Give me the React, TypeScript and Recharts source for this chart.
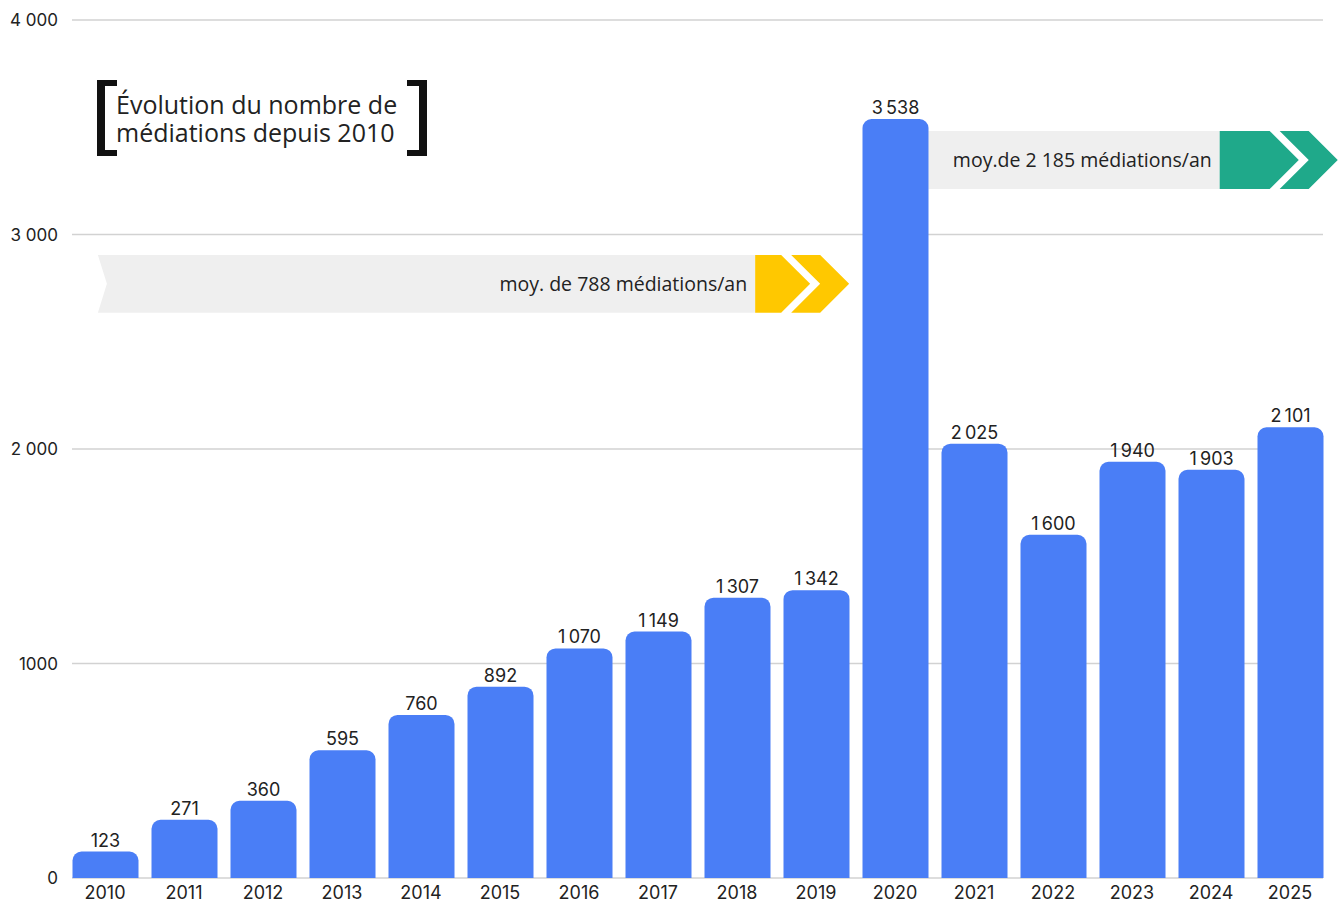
import React from "react"
import { BarChart, Bar, XAxis, YAxis, CartesianGrid, LabelList, ReferenceArea } from "recharts"

const years = ["2010", "2011", "2012", "2013", "2014", "2015", "2016", "2017", "2018", "2019", "2020", "2021", "2022", "2023", "2024", "2025"]
const mediations = [123, 271, 360, 595, 760, 892, 1070, 1149, 1307, 1342, 3538, 2025, 1600, 1940, 1903, 2101]
const yTicks = [0, 1000, 2000, 3000, 4000]
const yTickLabels = ["0", "1000", "2 000", "3 000", "4 000"]

// average banners: year span, grey part given in bands from the span start, value range
const bannerTexts = ["moy. de 788 médiations/an", "moy.de 2 185 médiations/an"]
const bannerColors = ["#FFC800", "#1FA98A"]
const bannerYears = [["2010", "2019"], ["2021", "2025"]]
const bannerBands = [[0.41, 8.73], [-0.08, 3.61]]
const bannerY = [[2635, 2905], [3212, 3483]]

const BLUE = "#4A7EF6"
const FONT_NUM = "Inter, sans-serif"
const FONT_TEXT = "'Open Sans', sans-serif"

const data = years.map((year, i) => ({ year, value: mediations[i] }))

const fmt = (v: number) => v.toLocaleString("fr-FR")

function makeBanner(i: number, blockWidth: number, notched: boolean) {
  const [from, to] = bannerYears[i]
  const bands = years.indexOf(to) - years.indexOf(from) + 1
  return (props: any) => {
    const { x: areaX, y, width: areaW, height } = props
    const band = areaW / bands
    const x = areaX + bannerBands[i][0] * band
    const end = areaX + bannerBands[i][1] * band
    const half = height / 2
    const mid = y + half
    const bottom = y + height
    const gray = notched
      ? `M${x},${y} L${end},${y} L${end},${bottom} L${x},${bottom} L${x + 9},${mid} Z`
      : `M${x},${y} L${end},${y} L${end},${bottom} L${x},${bottom} Z`
    const block = `M${end},${y} L${end + blockWidth},${y} L${end + blockWidth + half},${mid} L${end + blockWidth},${bottom} L${end},${bottom} Z`
    const s = end + blockWidth + 10
    const cw = 29
    const chevron = `M${s},${y} L${s + cw},${y} L${s + cw + half},${mid} L${s + cw},${bottom} L${s},${bottom} L${s + half},${mid} Z`
    return (
      <g>
        <path d={gray} fill="#EFEFEF" />
        <path d={block} fill={bannerColors[i]} />
        <path d={chevron} fill={bannerColors[i]} />
        <text x={end - 8} y={mid} textAnchor="end" dominantBaseline="central" fontSize={19.5} fontFamily={FONT_TEXT} fill="#222">
          {bannerTexts[i]}
        </text>
      </g>
    )
  }
}

const bannerShapes = [makeBanner(0, 26, true), makeBanner(1, 50, false)]

function Title() {
  const arm = { position: "absolute" as const, top: 0, width: 12, height: 64, borderTop: "6px solid #111", borderBottom: "6px solid #111" }
  return (
    <div style={{ position: "absolute", left: 97, top: 80, width: 330, height: 76 }}>
      <div style={{ ...arm, left: 0, borderLeft: "8px solid #111" }} />
      <div style={{ ...arm, right: 0, borderRight: "8px solid #111" }} />
      <div style={{ position: "absolute", left: 19, top: 10, fontFamily: FONT_TEXT, fontSize: 25, lineHeight: "28px", color: "#222", whiteSpace: "nowrap" }}>
        Évolution du nombre de
        <br />
        médiations depuis 2010
      </div>
    </div>
  )
}

export default function App() {
  return (
    <div style={{ position: "fixed", left: 0, top: 0, width: 1344, height: 904, background: "#fff" }}>
      <BarChart width={1344} height={904} data={data} margin={{ top: 20, right: 21, bottom: 0, left: 0 }}>
        <CartesianGrid vertical={false} stroke="#D2D2D2" strokeWidth={1.5} />
        <XAxis
          dataKey="year"
          axisLine={false}
          tickLine={false}
          height={26}
          padding={{ left: -6.5, right: -6.5 }}
          tick={{ fontSize: 18, fill: "#222", fontFamily: FONT_NUM }}
          interval={0}
        />
        <YAxis
          domain={[0, 4000]}
          ticks={yTicks}
          axisLine={false}
          tickLine={false}
          width={72}
          tickMargin={8}
          tick={{ fontSize: 17, fill: "#222", fontFamily: FONT_NUM }}
          tickFormatter={(v: number) => yTickLabels[yTicks.indexOf(v)]}
        />
        {bannerShapes.map((shape, i) => (
          <ReferenceArea
            key={i}
            x1={bannerYears[i][0]}
            x2={bannerYears[i][1]}
            y1={bannerY[i][0]}
            y2={bannerY[i][1]}
            ifOverflow="visible"
            shape={shape}
          />
        ))}
        <Bar dataKey="value" fill={BLUE} barSize={66} radius={[9, 9, 0, 0]} isAnimationActive={false}>
          <LabelList
            dataKey="value"
            position="top"
            offset={5}
            formatter={(v: any) => fmt(Number(v))}
            style={{ fontSize: 18, fill: "#222", fontFamily: FONT_NUM }}
          />
        </Bar>
      </BarChart>
      <Title />
    </div>
  )
}
